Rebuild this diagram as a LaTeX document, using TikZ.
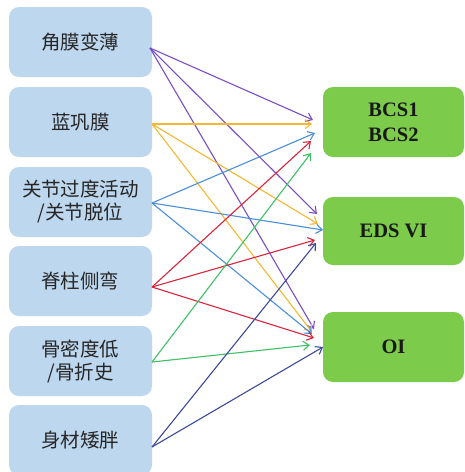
\documentclass[tikz,border=0pt]{standalone}
\usepackage{fontspec}
\newfontfamily\cjk{Noto Sans CJK SC}
\newfontfamily\rmb{Liberation Serif}
\usetikzlibrary{arrows.meta}
\definecolor{lbox}{HTML}{BDD7EE}
\definecolor{gbox}{HTML}{7CCB4B}
\definecolor{cpur}{HTML}{7B4FC4}
\definecolor{cyel}{HTML}{F4B732}
\definecolor{cblu}{HTML}{4A8FD8}
\definecolor{cred}{HTML}{D8263C}
\definecolor{cgrn}{HTML}{3EC266}
\definecolor{cnav}{HTML}{3C4A9A}
\tikzset{
  sbox/.style={fill=lbox, rounded corners=10pt, minimum width=143pt, minimum height=70pt,
    inner sep=0pt, outer sep=0pt, anchor=north west, align=center,
    font=\cjk\fontsize{19.5}{23}\selectfont, text=black!85},
  dbox/.style={fill=gbox, rounded corners=10pt, minimum width=141pt, minimum height=70pt,
    inner sep=0pt, outer sep=0pt, anchor=north west, align=center,
    font=\rmb\bfseries\fontsize{20.5}{25}\selectfont, text=black!90},
  link/.style={line width=1.1pt, -{Straight Barb[length=6pt,width=9pt,line width=1.1pt]}},
}
\begin{document}
\begin{tikzpicture}[x=1pt,y=-1pt]
\useasboundingbox (0,0) rectangle (465,472);
\fill[white] (0,0) rectangle (465,472);
% left boxes
\node[sbox] (s1) at (9,7) {角膜变薄};
\node[sbox] (s2) at (9,87) {蓝巩膜};
\node[sbox] (s3) at (9,167) {关节过度活动\\/关节脱位};
\node[sbox] (s4) at (9,246) {脊柱侧弯};
\node[sbox] (s5) at (9,326) {骨密度低\\/骨折史};
\node[sbox] (s6) at (9,405) {身材矮胖};
% right boxes
\node[dbox] (d1) at (323,87) {BCS1\\BCS2};
\node[dbox, minimum height=68pt] (d2) at (323,197) {EDS VI};
\node[dbox] (d3) at (323,312) {OI};
% start points
\coordinate (p1) at (150,48);
\coordinate (p2) at (152,124);
\coordinate (p3) at (152,203);
\coordinate (p4) at (152,287);
\coordinate (p5) at (152,362);
\coordinate (p6) at (152,447);
% end points
\coordinate (a1) at (313,120);
\coordinate (a2) at (312,124);
\coordinate (a3) at (315,133);
\coordinate (a4) at (311,141);
\coordinate (a5) at (311,153);
\coordinate (b1) at (317,214);
\coordinate (b2) at (318,224);
\coordinate (b3) at (323,230);
\coordinate (b4) at (315,240);
\coordinate (b6) at (316,243);
\coordinate (c1) at (314,329);
\coordinate (c2) at (312,332);
\coordinate (c3) at (312,334);
\coordinate (c4) at (314,338);
\coordinate (c5) at (310,345);
\coordinate (c6) at (323,347);
% connectors
\draw[link, cpur] (p1) -- (a1);
\draw[link, cpur] (p1) -- (b1);
\draw[link, cpur] (p1) -- (c1);
\draw[link, cyel] (p2) -- (a2);
\draw[link, cyel] (p2) -- (b2);
\draw[link, cyel] (p2) -- (c2);
\draw[link, cblu] (p3) -- (a3);
\draw[link, cblu] (p3) -- (b3);
\draw[link, cblu] (p3) -- (c3);
\draw[link, cred] (p4) -- (a4);
\draw[link, cred] (p4) -- (b4);
\draw[link, cred] (p4) -- (c4);
\draw[link, cgrn] (p5) -- (a5);
\draw[link, cgrn] (p5) -- (c5);
\draw[link, cnav] (p6) -- (b6);
\draw[link, cnav] (p6) -- (c6);
\end{tikzpicture}
\end{document}
